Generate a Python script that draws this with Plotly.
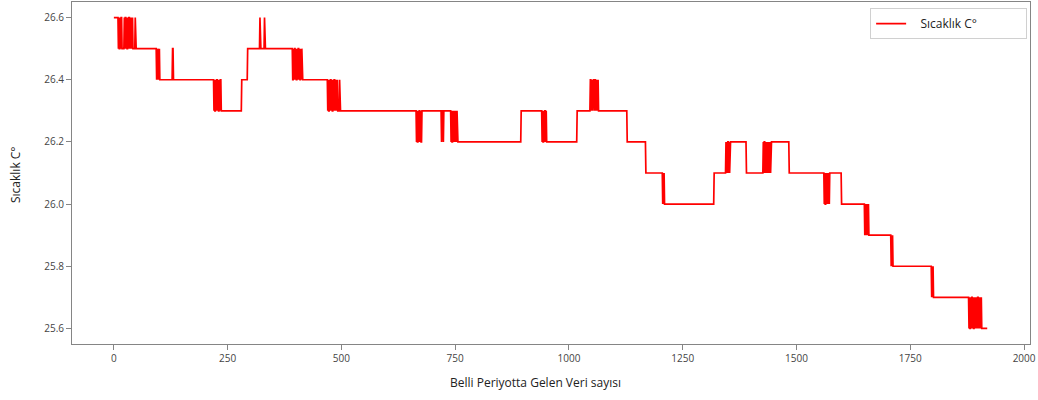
import numpy as np
import plotly.graph_objects as go

# Temperature readings stored as runs: each level is held for the given
# number of consecutive samples.
levels = [
    26.6,
    26.5, 26.6, 26.5, 26.6, 26.5, 26.6, 26.5,
    26.6, 26.5, 26.6, 26.5, 26.6, 26.5, 26.6, 26.5, 26.6, 26.5, 26.6, 26.5, 26.6, 26.5,
    26.6, 26.5, 26.6, 26.5,
    26.4, 26.5, 26.4, 26.5, 26.4, 26.5, 26.4,
    26.5, 26.4,
    26.3, 26.4, 26.3, 26.4, 26.3, 26.4, 26.3, 26.4, 26.3, 26.4, 26.3, 26.4,
    26.3, 26.4, 26.5, 26.6, 26.5, 26.6, 26.5,
    26.4, 26.5, 26.4, 26.5, 26.4, 26.5, 26.4, 26.5, 26.4, 26.5, 26.4, 26.5, 26.4, 26.5, 26.4, 26.5, 26.4,
    26.3, 26.4, 26.3, 26.4, 26.3, 26.4, 26.3, 26.4, 26.3, 26.4, 26.3, 26.4, 26.3, 26.4, 26.3, 26.4, 26.3, 26.4,
    26.3, 26.4, 26.3,
    26.2, 26.3, 26.2, 26.3, 26.2, 26.3, 26.2, 26.3, 26.2, 26.3,
    26.2, 26.3, 26.2, 26.3,
    26.2, 26.3, 26.2, 26.3, 26.2, 26.3, 26.2, 26.3, 26.2, 26.3, 26.2, 26.3, 26.2,
    26.2, 26.3,
    26.2, 26.3, 26.2, 26.3, 26.2, 26.3, 26.2, 26.3, 26.2,
    26.3,
    26.4, 26.3, 26.4, 26.3, 26.4, 26.3, 26.4, 26.3, 26.4, 26.3, 26.4,
    26.3, 26.2, 26.1,
    26.0, 26.1, 26.0, 26.1,
    26.0, 26.1,
    26.2, 26.1, 26.2, 26.1, 26.2, 26.1, 26.2, 26.1, 26.2,
    26.1,
    26.2, 26.1, 26.2, 26.1, 26.2, 26.1, 26.2, 26.1, 26.2, 26.1, 26.2, 26.1, 26.2, 26.1,
    26.2, 26.1,
    26.0, 26.1, 26.0, 26.1, 26.0, 26.1, 26.0, 26.1, 26.0,
    26.1, 26.0,
    25.9, 26.0, 25.9, 26.0, 25.9, 26.0, 25.9, 26.0, 25.9,
    25.9, 25.8, 25.9, 25.8, 25.9, 25.8,
    25.8, 25.7, 25.8, 25.7, 25.8, 25.7,
    25.6, 25.7, 25.6, 25.7, 25.6, 25.7, 25.6, 25.7, 25.6, 25.7, 25.6,
    25.7, 25.6, 25.7, 25.6, 25.7, 25.6, 25.7, 25.6, 25.7, 25.6, 25.7,
    25.6,
]
run_lengths = [
    10,
    1, 1, 2, 1, 1, 2, 5,
    1, 1, 2, 1, 1, 2, 1, 1, 2, 1, 1, 1, 2, 1,
    1, 5, 1, 46,
    1, 1, 1, 2, 1, 1, 28,
    2, 89,
    1, 1, 2, 1, 1, 2, 1, 1, 2, 1, 1, 2,
    45, 13, 27, 1, 9, 1, 61,
    2, 1, 1, 2, 1, 1, 2, 1, 1, 2, 1, 1, 2, 1, 1, 1, 56,
    1, 1, 2, 1, 1, 2, 1, 1, 2, 1, 1, 2, 1, 1, 1, 1, 1, 1,
    4, 1, 168,
    1, 1, 2, 1, 1, 2, 1, 1, 2, 43,
    1, 3, 1, 16,
    1, 1, 2, 1, 1, 1, 2, 1, 1, 1, 1, 1, 1,
    139, 46,
    1, 1, 2, 1, 1, 2, 1, 1, 67,
    29,
    2, 1, 2, 1, 3, 1, 2, 1, 2, 1, 2,
    63, 41, 37,
    1, 1, 1, 1,
    109, 26,
    1, 1, 1, 1, 2, 1, 1, 1, 36,
    37,
    1, 1, 2, 1, 1, 1, 2, 1, 1, 1, 2, 1, 1, 1,
    40, 77,
    1, 1, 2, 1, 1, 1, 2, 1, 2,
    26, 51,
    1, 1, 1, 2, 1, 1, 1, 1, 48,
    1, 1, 1, 1, 1, 84,
    1, 1, 1, 1, 1, 78,
    1, 1, 2, 1, 1, 2, 1, 1, 2, 1, 1,
    1, 2, 1, 1, 2, 1, 1, 1, 1, 1, 2,
    13,
]

y_ticks = [25.6, 25.8, 26.0, 26.2, 26.4, 26.6]
y_tick_text = ["25.6", "25.8", "26.0", "26.2", "26.4", "26.6"]
x_ticks = [0, 250, 500, 750, 1000, 1250, 1500, 1750, 2000]
x_tick_text = ["0", "250", "500", "750", "1000", "1250", "1500", "1750", "2000"]

assert len(levels) == len(run_lengths), (len(levels), len(run_lengths))
temps = np.repeat(levels, run_lengths)
assert len(temps) == 1920, len(temps)
sample_no = np.arange(len(temps))

FONT = "Open Sans"
AXIS_GREY = "#858585"
TICK_TEXT = "#444444"
NBSP = "\u00a0"

fig = go.Figure()
fig.add_trace(go.Scatter(
    x=sample_no, y=temps, mode="lines",
    name=NBSP * 3 + "Sıcaklık C°" + NBSP * 14,
    line=dict(color="#ff0000", width=1.7),
))

axis_common = dict(
    showgrid=False, zeroline=False, showline=True, mirror=True,
    linecolor=AXIS_GREY, linewidth=1,
    ticks="outside", ticklen=5, tickcolor=AXIS_GREY, tickwidth=1,
    tickfont=dict(family=FONT, size=10, color=TICK_TEXT),
)

fig.update_layout(
    width=1038, height=400,
    margin=dict(l=72, r=8, t=2, b=56),
    paper_bgcolor="white", plot_bgcolor="white",
    font=dict(family=FONT, color="#222222"),
    showlegend=True,
    legend=dict(
        x=0.997, y=0.982, xanchor="right", yanchor="top",
        bgcolor="white", bordercolor="#d0d0d0", borderwidth=1,
        font=dict(family=FONT, size=12, color="#222222"),
        itemwidth=30,
    ),
    xaxis=dict(range=[-92, 2013], tickvals=x_ticks, ticktext=x_tick_text, **axis_common),
    yaxis=dict(range=[25.55, 26.65], tickvals=y_ticks, ticktext=y_tick_text, **axis_common),
)

fig.add_annotation(
    text="Belli Periyotta Gelen Veri sayısı", xref="paper", yref="paper",
    x=(535 - 72) / 958, y=-(383 - 344) / 342, xanchor="center", yanchor="middle",
    showarrow=False, font=dict(family=FONT, size=12, color="#222222"),
)
fig.add_annotation(
    text="Sıcaklık C°", xref="paper", yref="paper",
    x=-(72 - 16) / 958, y=(344 - 175) / 342, xanchor="center", yanchor="middle",
    textangle=-90, showarrow=False, font=dict(family=FONT, size=12, color="#222222"),
)

fig.write_html("out.html")
